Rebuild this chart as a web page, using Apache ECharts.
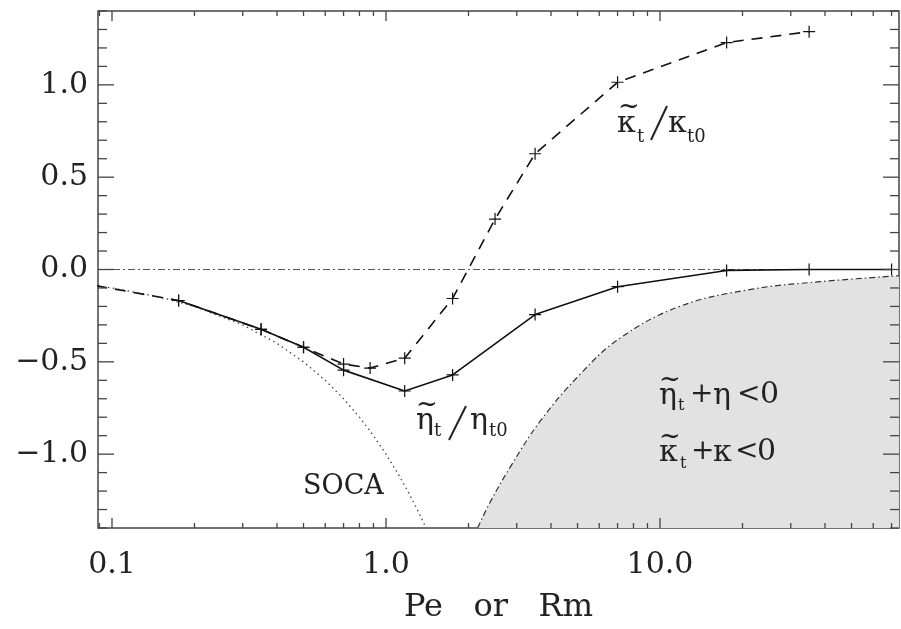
<!DOCTYPE html>
<html>
<head>
<meta charset="utf-8">
<script src="https://cdn.jsdelivr.net/npm/echarts@6/dist/echarts.min.js"></script>
<style>
  html, body { margin: 0; padding: 0; background: #fff; }
  #chart { width: 901px; height: 629px; }
</style>
</head>
<body>
<div id="chart"></div>
<script>
// Turbulent diffusivity ratios versus Pe (or Rm)
const peEta = [0.175, 0.35, 0.5, 0.7, 1.17, 1.75, 3.5, 7, 17.5, 35, 70];
const etaRatio = [-0.168, -0.324, -0.421, -0.545, -0.658, -0.571, -0.244, -0.093, -0.005, 0.0, 0.0];

const peKappa = [0.0875, 0.175, 0.35, 0.5, 0.7, 0.875, 1.17, 1.75, 2.5, 3.5, 7, 17.5, 35];
const kappaRatio = [-0.088, -0.168, -0.324, -0.421, -0.512, -0.534, -0.48, -0.157, 0.273, 0.627, 1.014, 1.229, 1.288];

// SOCA curve
const peSoca = [0.0889, 0.1, 0.15, 0.2, 0.3, 0.4, 0.5, 0.6, 0.7, 0.8, 0.9, 1.0, 1.1, 1.2, 1.3, 1.4];
const socaRatio = [-0.089, -0.1, -0.15, -0.2, -0.3, -0.4, -0.5, -0.6, -0.7, -0.8, -0.9, -1.0, -1.1, -1.2, -1.3, -1.4];

// boundary of the negative total diffusivity region
const peBound = [2.16, 2.39, 2.84, 3.66, 5.12, 7.13, 11.8, 21.2, 38.3, 74.5];
const boundRatio = [-1.4, -1.265, -1.07, -0.82, -0.566, -0.373, -0.2, -0.109, -0.066, -0.034];

const xLabels = { '0.1': '0.1', '1': '1.0', '10': '10.0' };
const yLabels = { '-10': '\u22121.0', '-5': '\u22120.5', '0': '0.0', '5': '0.5', '10': '1.0' };

const X_MIN = 0.0889, X_MAX = 74.5, Y_MIN = -1.4, Y_MAX = 1.4;
const FONT = '"DejaVu Serif", "Liberation Serif", serif';
const INK = '#222';

const zip = (xs, ys) => xs.map((x, i) => [x, ys[i]]);

// tick positions for the boxed frame
const xTicks = [];
[0.01, 0.1, 1, 10].forEach(d => {
  for (let k = 1; k <= 9; k++) {
    const v = k * d;
    if (v >= X_MIN && v <= X_MAX) xTicks.push({ v, major: k === 1 });
  }
});
const yTicks = [];
for (let i = -14; i <= 14; i++) yTicks.push({ v: i / 10, major: i % 5 === 0 });

const plusSymbol = 'path://M0,5.4H12V6.6H0Z M5.4,0H6.6V12H5.4Z';

function seg(x1, y1, x2, y2) {
  return { type: 'line', shape: { x1, y1, x2, y2 }, style: { stroke: '#444', lineWidth: 1.3 } };
}

function txt(s, x, y, size) {
  return {
    type: 'text', x, y, z: 100, silent: true,
    style: { text: s, font: size + 'px ' + FONT, fill: INK, verticalAlign: 'middle', align: 'left' }
  };
}

function slash(x1, y1, x2, y2) {
  return { type: 'line', z: 100, silent: true, shape: { x1, y1, x2, y2 }, style: { stroke: INK, lineWidth: 2 } };
}

const labels = [
  txt('SOCA', 303, 487, 27),
  // kappa_t / kappa_t0
  txt('~', 618, 107, 26), txt('\u03ba', 617, 124, 30), txt('t', 637, 137, 18),
  slash(651, 140, 667, 106), txt('\u03ba', 668, 124, 30), txt('t0', 687, 137, 18),
  // eta_t / eta_t0
  txt('~', 416, 405, 26), txt('\u03b7', 416, 421, 30), txt('t', 434, 431, 18),
  slash(449, 440, 466, 406), txt('\u03b7', 470, 421, 30), txt('t0', 489, 431, 18),
  // eta_t + eta < 0
  txt('~', 659, 380, 26), txt('\u03b7', 659, 396, 30), txt('t', 678, 406, 16),
  txt('+', 690, 395, 28), txt('\u03b7', 713, 396, 30), txt('<', 737, 395, 28), txt('0', 760, 395, 30),
  // kappa_t + kappa < 0
  txt('~', 659, 437, 26), txt('\u03ba', 659, 453, 30), txt('t', 680, 464, 16),
  txt('+', 691, 452, 28), txt('\u03ba', 713, 453, 30), txt('<', 735, 452, 28), txt('0', 757, 452, 30)
];

const chart = echarts.init(document.getElementById('chart'), null, { renderer: 'canvas' });

chart.setOption({
  animation: false,
  backgroundColor: '#fff',
  grid: {
    left: 98, right: 2, top: 11, bottom: 96,
    show: true, borderColor: '#444', borderWidth: 1.5, backgroundColor: 'transparent'
  },
  xAxis: {
    type: 'log', logBase: 10, min: X_MIN, max: X_MAX,
    axisLine: { show: false }, axisTick: { show: false },
    splitLine: { show: false }, minorTick: { show: false },
    axisLabel: {
      showMinLabel: false, showMaxLabel: false, margin: 22,
      fontFamily: FONT, fontSize: 30, color: INK,
      formatter: v => {
        const key = String(Math.round(v * 1000) / 1000);
        return xLabels[key] || '';
      }
    },
    name: 'Pe   or   Rm', nameLocation: 'middle', nameGap: 64,
    nameTextStyle: { fontFamily: FONT, fontSize: 32, color: INK }
  },
  yAxis: {
    type: 'value', min: Y_MIN, max: Y_MAX, interval: 0.1,
    axisLine: { show: false }, axisTick: { show: false }, splitLine: { show: false },
    axisLabel: {
      margin: 10, fontFamily: FONT, fontSize: 30, color: INK,
      formatter: v => yLabels[String(Math.round(v * 10))] || ''
    }
  },
  graphic: labels,
  series: [
    {
      name: 'negative region', type: 'line', data: zip(peBound, boundRatio),
      smooth: 0.4, symbol: 'none', clip: true, z: 1,
      lineStyle: { color: '#333', width: 1.2, type: [6, 3, 1.5, 3] },
      areaStyle: { color: '#e2e2e2', opacity: 1, origin: 'start' }
    },
    {
      name: 'zero', type: 'line', data: [[X_MIN, 0], [X_MAX, 0]],
      symbol: 'none', z: 2,
      lineStyle: { color: '#555', width: 1.2, type: [7, 3, 2, 3] }
    },
    {
      name: 'SOCA', type: 'line', data: zip(peSoca, socaRatio),
      symbol: 'none', clip: true, z: 3,
      lineStyle: { color: '#444', width: 1.3, type: [1.5, 3.5] }
    },
    {
      name: 'kappa', type: 'line', clip: true, z: 4,
      data: zip(peKappa, kappaRatio).map((p, i) => i === 0 ? { value: p, symbol: 'none' } : p),
      symbol: plusSymbol, symbolSize: 12,
      itemStyle: { color: '#111' },
      lineStyle: { color: '#111', width: 1.6, type: [11, 8] }
    },
    {
      name: 'eta', type: 'line', data: zip(peEta, etaRatio), clip: true, z: 5,
      symbol: plusSymbol, symbolSize: 12,
      itemStyle: { color: '#111' },
      lineStyle: { color: '#111', width: 1.6 }
    },
    {
      name: 'frame ticks', type: 'custom', data: [[1, 0]], z: 10, silent: true, clip: false,
      renderItem: (params, api) => {
        const cs = params.coordSys;
        const left = cs.x, right = cs.x + cs.width, top = cs.y, bottom = cs.y + cs.height;
        const children = [];
        xTicks.forEach(t => {
          const px = api.coord([t.v, 0])[0];
          const len = t.major ? 10 : 5;
          children.push(seg(px, bottom, px, bottom - len));
          children.push(seg(px, top, px, top + len));
        });
        yTicks.forEach(t => {
          const py = api.coord([1, t.v])[1];
          const len = t.major ? 16 : 9;
          children.push(seg(left, py, left + len, py));
          children.push(seg(right, py, right - len, py));
        });
        return { type: 'group', children };
      }
    }
  ]
});
</script>
</body>
</html>
